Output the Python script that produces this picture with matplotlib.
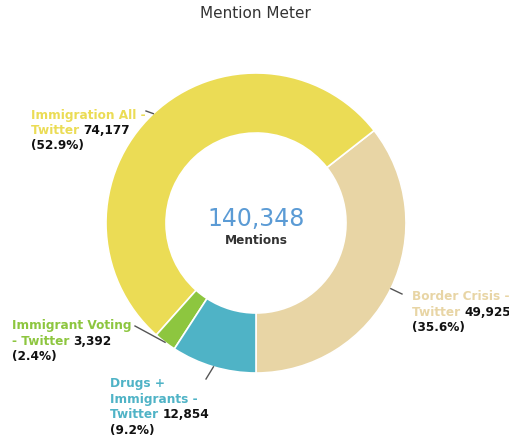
import numpy as np
import matplotlib.pyplot as plt

# data
names = ['Border Crisis - Twitter', 'Immigration All - Twitter',
         'Immigrant Voting - Twitter', 'Drugs + Immigrants - Twitter']
mentions = [49925, 74177, 3392, 12854]
colors = ['#e8d5a5', '#ebdc55', '#8dc63f', '#4fb3c6']
# label lines (colored part, black part) per slice
label_lines = [
    [('Border Crisis -', ''), ('Twitter ', '49,925'), ('', '(35.6%)')],
    [('Immigration All -', ''), ('Twitter ', '74,177'), ('', '(52.9%)')],
    [('Immigrant Voting', ''), ('- Twitter ', '3,392'), ('', '(2.4%)')],
    [('Drugs +', ''), ('Immigrants -', ''), ('Twitter ', '12,854'), ('', '(9.2%)')],
]
# label anchor (pixels, left x, first line center y) and connector end (pixels)
label_pos = [(412, 297), (31, 115), (12, 326), (110, 384)]
conn_end = [(402, 294), (146, 111), (135, 326), (206, 379)]

W, H = 510, 441
cx, cy, R = 256, 223, 150

fig = plt.figure(figsize=(W / 100, H / 100), dpi=100)
ax = fig.add_axes([0, 0, 1, 1])


def px(x, y):
    return (x - cx) / R, (cy - y) / R


wedges, _ = ax.pie(mentions, colors=colors, startangle=-90, counterclock=True,
                   radius=1, wedgeprops=dict(width=0.4, edgecolor='white', linewidth=1.2),
                   center=(0, 0), frame=True)
ax.axis('off')
ax.set_xlim(-cx / R, (W - cx) / R)
ax.set_ylim(-(H - cy) / R, cy / R)

fig.text(0.5, 1 - 14 / H, 'Mention Meter', ha='center', va='center',
         fontsize=11, color='#333333')

total = sum(mentions)
ax.text(*px(256, 219), f'{total:,}', ha='center', va='center',
        fontsize=17, color='#5b9bd5')
ax.text(*px(256, 240), 'Mentions', ha='center', va='center',
        fontsize=8.7, fontweight='bold', color='#333333')

renderer = fig.canvas.get_renderer()
for w, lines, (lx, ly), (ex, ey), col in zip(wedges, label_lines, label_pos, conn_end, colors):
    ang = np.deg2rad((w.theta1 + w.theta2) / 2)
    sx, sy = np.cos(ang), np.sin(ang)
    ax.plot([sx, px(ex, ey)[0]], [sy, px(ex, ey)[1]], color='#555555', lw=1, zorder=2)
    for i, (cpart, bpart) in enumerate(lines):
        y = ly + i * 15.5
        x = lx
        if cpart:
            t = ax.text(*px(x, y), cpart, ha='left', va='center', fontsize=8.7,
                        fontweight='bold', color=col, zorder=5)
            x += t.get_window_extent(renderer).width
        if bpart:
            ax.text(*px(x, y), bpart, ha='left', va='center', fontsize=8.7,
                    fontweight='bold', color='#111111', zorder=5)

fig.savefig('out.png', dpi=100, facecolor='white')
